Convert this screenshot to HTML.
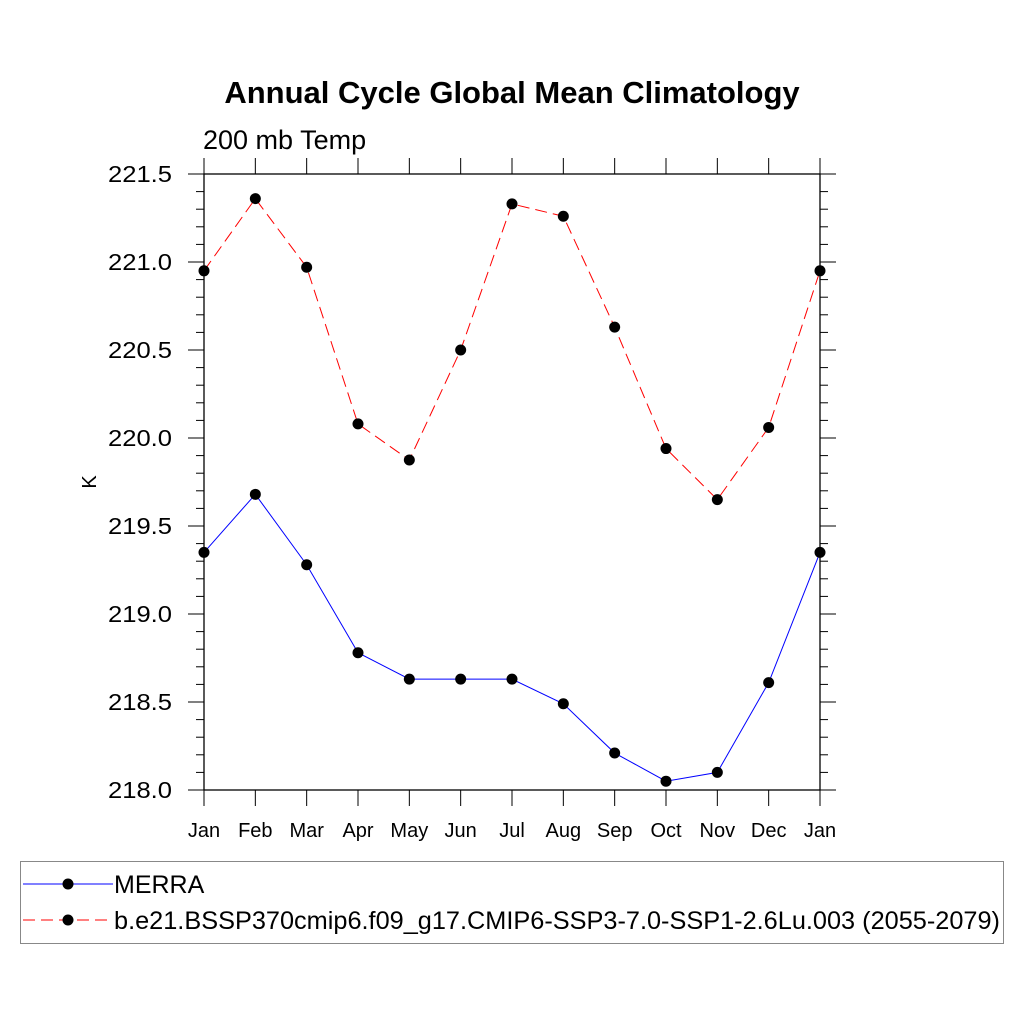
<!DOCTYPE html>
<html><head><meta charset="utf-8"><style>body{margin:0;background:#fff}svg{display:block;font-family:"Liberation Sans",sans-serif}</style></head>
<body>
<svg id="c" width="1024" height="1024" xmlns="http://www.w3.org/2000/svg">
<text x="512" y="103" text-anchor="middle" font-size="31" font-weight="bold">Annual Cycle Global Mean Climatology</text>
<text x="203" y="149" font-size="27">200 mb Temp</text>
<text transform="translate(96,482) rotate(-90)" text-anchor="middle" font-size="20">K</text>
<g id="axes"></g>
<g id="series"></g>
<g>
<rect x="20.5" y="861.5" width="983" height="82" fill="none" stroke="#888" stroke-width="1"/>
<line x1="23" y1="884" x2="113" y2="884" stroke="#00f" stroke-width="1"/>
<circle cx="68" cy="884" r="5.5" fill="#000"/>
<text x="114" y="893" font-size="25">MERRA</text>
<line x1="23" y1="920" x2="113" y2="920" stroke="#f00" stroke-width="1" stroke-dasharray="12,6"/>
<circle cx="68" cy="920" r="5.5" fill="#000"/>
<text x="114" y="929" font-size="25" textLength="886" lengthAdjust="spacingAndGlyphs">b.e21.BSSP370cmip6.f09_g17.CMIP6-SSP3-7.0-SSP1-2.6Lu.003 (2055-2079)</text>
</g>
</svg>
<script>
const months=["Jan","Feb","Mar","Apr","May","Jun","Jul","Aug","Sep","Oct","Nov","Dec","Jan"];
const merra=[219.35,219.68,219.28,218.78,218.63,218.63,218.63,218.49,218.21,218.05,218.10,218.61,219.35];
const model=[220.95,221.36,220.97,220.08,219.875,220.5,221.33,221.26,220.63,219.94,219.65,220.06,220.95];
const yTicks=["218.0","218.5","219.0","219.5","220.0","220.5","221.0","221.5"];
const NS="http://www.w3.org/2000/svg";
const L=204,R=820,T=174,B=790,ymin=218,ymax=221.5;
const xs=i=>L+(R-L)*i/(months.length-1);
const ys=v=>B-(v-ymin)/(ymax-ymin)*(B-T);
function mk(t,a,p){const e=document.createElementNS(NS,t);for(const k in a)e.setAttribute(k,a[k]);p.appendChild(e);return e;}
const ax=document.getElementById('axes'),se=document.getElementById('series');
const box=mk('rect',{x:L,y:T,width:R-L,height:B-T,fill:'none',stroke:'#000','stroke-width':1.3},ax);


for(let v=ymin;v<=ymax+1e-6;v+=0.1){const y=ys(v);const maj=Math.abs(v*2-Math.round(v*2))<1e-6;const len=maj?16:8;
mk('line',{x1:L-len,y1:y,x2:L,y2:y,stroke:'#000','stroke-width':1},ax);
mk('line',{x1:R,y1:y,x2:R+len,y2:y,stroke:'#000','stroke-width':1},ax);}
yTicks.forEach(t=>{const e=mk('text',{x:172,y:ys(+t)+8,'text-anchor':'end','font-size':23,'textLength':64,'lengthAdjust':'spacingAndGlyphs'},ax);e.textContent=t;

});
months.forEach((m,i)=>{const x=xs(i);
mk('line',{x1:x,y1:B,x2:x,y2:B+16,stroke:'#000','stroke-width':1},ax);
mk('line',{x1:x,y1:T-16,x2:x,y2:T,stroke:'#000','stroke-width':1},ax);
const e=mk('text',{x:x,y:837,'text-anchor':'middle','font-size':20},ax);e.textContent=m;

});
function draw(arr,col,dash,name){const p=mk('polyline',{points:arr.map((v,i)=>xs(i)+','+ys(v)).join(' '),fill:'none',stroke:col,'stroke-width':1,'stroke-dasharray':dash},se);


arr.forEach((v,i)=>{const c=mk('circle',{cx:xs(i),cy:ys(v),r:5.5,fill:'#000'},se);

});}
draw(merra,'#00f','none','merra');
draw(model,'#f00','12,6','model');
</script>
</body></html>
